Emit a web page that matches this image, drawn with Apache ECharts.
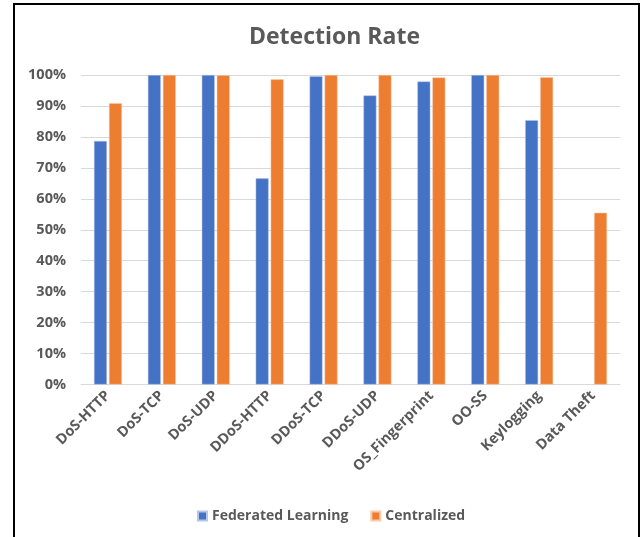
<!DOCTYPE html>
<html>
<head>
<meta charset="utf-8">
<script src="https://cdn.jsdelivr.net/npm/echarts@6/dist/echarts.min.js"></script>
<style>
html,body{margin:0;padding:0;background:#fff;}
#frame{position:absolute;left:13px;top:3px;width:627px;height:540px;border:2px solid #000;box-sizing:border-box;border-bottom:none;}
#chart{position:absolute;left:0;top:0;width:644px;height:537px;}
</style>
</head>
<body>
<div id="frame"></div>
<div id="chart"></div>
<script>
const categories = ['DoS-HTTP','DoS-TCP','DoS-UDP','DDoS-HTTP','DDoS-TCP','DDoS-UDP','OS_Fingerprint','OO-SS','Keylogging','Data Theft'];
const federated = [78.7, 100, 100, 66.6, 99.6, 93.4, 97.9, 100, 85.4, null];
const centralized = [90.9, 100, 99.9, 98.6, 100, 100, 99.2, 100, 99.3, 55.5];
const yTicks = [0,10,20,30,40,50,60,70,80,90,100];

const chart = echarts.init(document.getElementById('chart'));
const font = 'Open Sans';
chart.setOption({
  animation: false,
  title: {
    text: 'Detection Rate',
    left: 244,
    top: 21,
    textStyle: {fontFamily: font, fontSize: 23, fontWeight: 'bold', color: '#595959'}
  },
  legend: {
    bottom: 9,
    left: 192,
    itemWidth: 9, itemHeight: 9, itemGap: 22,
    icon: 'rect',
    textStyle: {fontFamily: font, fontSize: 14, fontWeight: 'bold', color: '#595959'},
    data: ['Federated Learning','Centralized']
  },
  grid: {left: 81, right: 24, top: 75, bottom: 152.5, containLabel: false},
  xAxis: {
    type: 'category',
    data: categories,
    axisLine: {lineStyle: {color: '#d9d9d9', width: 1}},
    axisTick: {show: false},
    axisLabel: {rotate: 45, interval: 0, margin: 9, fontFamily: font, fontSize: 14.5, fontWeight: 'bold', color: '#595959'}
  },
  yAxis: {
    type: 'value',
    min: 0, max: 100, interval: 10,
    axisLine: {show: false},
    axisTick: {show: false},
    splitLine: {lineStyle: {color: '#d9d9d9', width: 1}},
    axisLabel: {margin: 15, fontFamily: font, fontSize: 14.5, fontWeight: 'bold', color: '#595959', formatter: v => yTicks.includes(v) ? v + '%' : ''}
  },
  series: [
    {name: 'Federated Learning', type: 'bar', data: federated, barWidth: '24%', barGap: '16%',
     itemStyle: {color: '#4472c4', borderColor: '#b4c7e7', borderWidth: 0.5}},
    {name: 'Centralized', type: 'bar', data: centralized, barWidth: '24%',
     itemStyle: {color: '#ed7d31', borderColor: '#f8cbad', borderWidth: 0.5}}
  ]
});
</script>
</body>
</html>
